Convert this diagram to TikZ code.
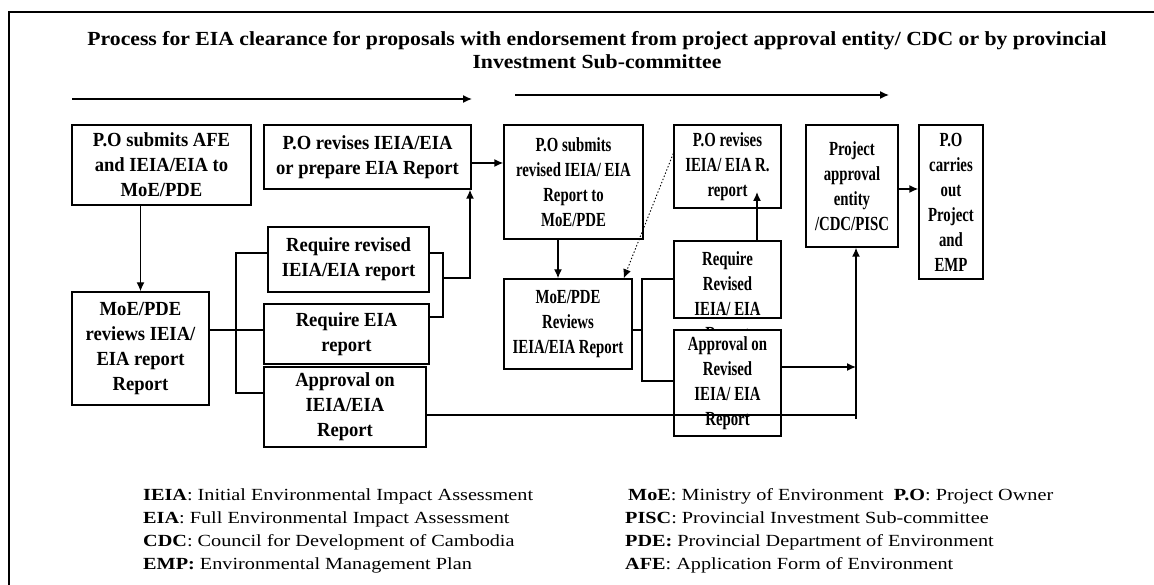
\documentclass[tikz,border=0pt]{standalone}
\usepackage{fontspec}
\setmainfont{Liberation Serif}
\newfontfamily\boxf{Liberation Serif}[FakeStretch=0.93]
\newfontfamily\boxr{Liberation Serif}[FakeStretch=0.74]
\newfontfamily\titf{Liberation Serif}[FakeStretch=1.085]
\newfontfamily\legf{Liberation Serif}[FakeStretch=1.19]
\usetikzlibrary{arrows.meta,calc}
\begin{document}
\begin{tikzpicture}[x=1pt,y=-1pt,
  box/.style={draw,line width=1.4pt,inner sep=0pt,align=center,fill=white,
    font=\boxf\bfseries\fontsize{20}{25}\selectfont},
  rbox/.style={box,font=\boxr\bfseries\fontsize{20}{25}\selectfont},
  boxtext/.style={inner sep=0pt,align=center,font=\boxr\bfseries\fontsize{20}{25}\selectfont},
  conn/.style={line width=1.4pt},
  arr/.style={conn,-{Latex[length=9pt,width=8pt]}},
  titletext/.style={inner sep=0pt,font=\titf\bfseries\fontsize{20}{24}\selectfont},
  legtext/.style={inner sep=0pt,anchor=base west,font=\legf\fontsize{17}{20}\selectfont}]
\useasboundingbox (0,0) rectangle (1154,585);
% frame
\draw[line width=2.5pt] (9,585) -- (9,12) -- (1154,12);
% title
\node[titletext,anchor=base] (t1) at (597,46) {Process for EIA clearance for proposals with endorsement from project approval entity/ CDC or by provincial};
\node[titletext,anchor=base] (t2) at (597,69) {Investment Sub-committee};
% top arrows
\coordinate (ta1) at (72,99);  \coordinate (tb1) at (472,99);
\coordinate (ta2) at (515,95); \coordinate (tb2) at (889,95);
\draw[arr] (ta1) -- (tb1);
\draw[arr] (ta2) -- (tb2);
% boxes
\node[box,minimum width=179pt,minimum height=80pt] (A) at (161.5,165) {P.O submits AFE\\and IEIA/EIA to\\MoE/PDE};
\node[box,minimum width=207pt,minimum height=64pt] (B) at (367.5,157) {P.O revises IEIA/EIA\\or prepare EIA Report};
\node[box,minimum width=137pt,minimum height=113pt] (C) at (140.5,348.5) {MoE/PDE\\reviews IEIA/\\EIA report\\Report};
\node[box,minimum width=161pt,minimum height=65pt] (D) at (348.5,259.5) {Require revised\\IEIA/EIA report};
\node[box,minimum width=165pt,minimum height=60pt] (E) at (346.5,334) {Require EIA\\report};
\node[box,minimum width=162pt,minimum height=80pt] (F) at (345,407) {Approval on\\IEIA/EIA\\Report};
\node[rbox,minimum width=139pt,minimum height=114pt] (G) at (573.5,182) {P.O submits\\revised IEIA/ EIA\\Report to\\MoE/PDE};
\node[rbox,minimum width=107pt,minimum height=83pt] (H) at (727.5,166.5) {P.O revises\\IEIA/ EIA R.\\report};
\node[rbox,minimum width=92pt,minimum height=122pt] (I) at (852,186) {Project\\approval\\entity\\/CDC/PISC};
\node[rbox,minimum width=64pt,minimum height=154pt] (J) at (951,202) {P.O\\carries\\out\\Project\\and\\EMP};
\node[rbox,minimum width=128pt,minimum height=90pt] (K) at (568,324) {MoE/PDE\\Reviews\\IEIA/EIA Report};
\node[rbox,minimum width=107pt,minimum height=77pt] (L) at (727.5,279.5) {};
\node[boxtext] (Lt) at (727.5,298) {Require\\Revised\\IEIA/ EIA\\Report};
\node[rbox,minimum width=107pt,minimum height=106pt] (M) at (727.5,383) {Approval on\\Revised\\IEIA/ EIA\\Report};
% connectors left part
\draw[arr] (A.south -| C.north) -- (C.north);
\coordinate (c0) at (209,330);
\coordinate (c1) at (236,253);
\coordinate (c2) at (236,393);
\draw[conn] (c0) -- (c0 -| E.west);
\draw[conn] (c1 -| D.west) -- (c1) -- (c2) -- (c2 -| F.west);
\coordinate (r1) at (443,253);
\coordinate (r2) at (443,317);
\coordinate (r3) at (443,278);
\coordinate (bx) at (470,278);
\draw[conn] (r1 -| D.east) -- (r1) -- (r2) -- (r2 -| E.east);
\draw[arr] (r3) -- (bx) -- (bx |- B.south);
\coordinate (bg) at (471,163);
\draw[arr] (bg) -- (bg -| G.west);
% connectors right part
\coordinate (gk) at (558,239);
\draw[arr] (gk) -- (gk |- K.north);
\draw[arr,dotted,line width=0.9pt] ($(H.west)+(0,-13)$) -- ($(K.north east)+(-9,0)$);
\coordinate (k0) at (632,330);
\coordinate (k1) at (642,279);
\coordinate (k2) at (642,381);
\draw[conn] (k0) -- (k0 -| k1);
\draw[conn] (k1 -| L.west) -- (k1) -- (k2) -- (k2 -| M.west);
\coordinate (lh) at (757,241);
\draw[arr] (lh) -- (757,192);
\coordinate (mv) at (781,367);
\coordinate (vx) at (856,367);
\draw[arr] (mv) -- (vx);
\coordinate (fl) at (426,415);
\coordinate (fv) at (856,415);
\coordinate (fb) at (856,419);
\draw[conn] (fl) -- (fv);
\draw[arr] (fb) -- (fb |- I.south);
\coordinate (ij) at (898,189);
\draw[arr] (ij) -- (ij -| J.west);
% legend
\node[legtext] (l1) at (143,500) {\textbf{IEIA}: Initial Environmental Impact Assessment};
\node[legtext] (l2) at (143,523) {\textbf{EIA}: Full Environmental Impact Assessment};
\node[legtext] (l3) at (143,546) {\textbf{CDC}: Council for Development of Cambodia};
\node[legtext] (l4) at (143,569) {\textbf{EMP:} Environmental Management Plan};
\node[legtext] (l5) at (628,500) {\textbf{MoE}: Ministry of Environment\hspace{10pt}\textbf{P.O}: Project Owner};
\node[legtext] (l6) at (625,523) {\textbf{PISC}: Provincial Investment Sub-committee};
\node[legtext] (l7) at (625,546) {\textbf{PDE:} Provincial Department of Environment};
\node[legtext] (l8) at (625,569) {\textbf{AFE}: Application Form of Environment};
\end{tikzpicture}
\end{document}
